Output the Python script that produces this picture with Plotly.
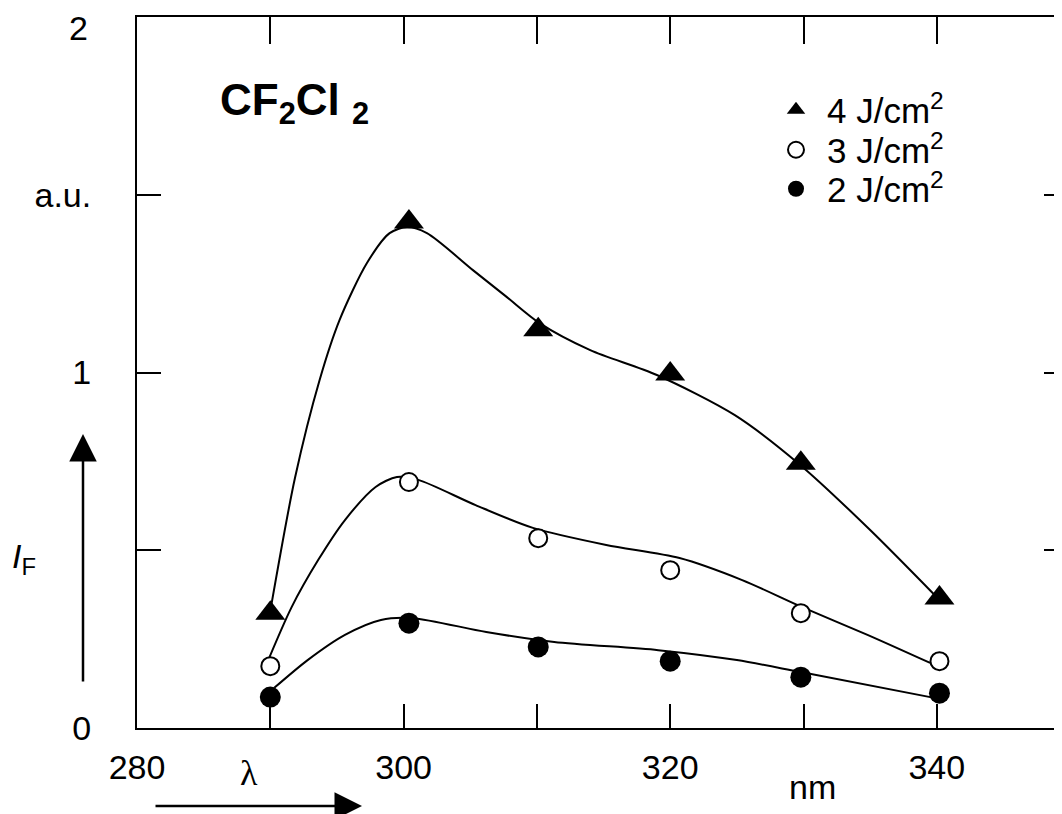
import plotly.graph_objects as go

# ---- data ----
wl_pts = [290.0, 300.4, 310.1, 320.0, 329.8, 340.2]
tri_4J = [0.323, 1.423, 1.120, 0.996, 0.745, 0.366]
open_3J = [0.174, 0.692, 0.534, 0.444, 0.323, 0.188]
fill_2J = [0.087, 0.295, 0.228, 0.188, 0.143, 0.098]

curve4_x = [290.05, 291.85, 293.7, 295.2, 297.25, 298.95, 300.25, 301.75,
            305.2, 307.75, 310.2, 314.0, 319.0, 324.85, 329.75, 335.0, 340.0]
curve4_y = [0.340, 0.703, 0.979, 1.148, 1.308, 1.392, 1.409, 1.392,
            1.288, 1.212, 1.139, 1.063, 0.993, 0.880, 0.740, 0.557, 0.368]
curve3_x = [289.6, 291.6, 293.6, 295.6, 297.9, 299.5, 301.1, 305.4, 309.7,
            315.2, 320.7, 325.4, 329.9, 334.8, 339.5]
curve3_y = [0.169, 0.340, 0.473, 0.585, 0.678, 0.706, 0.698, 0.627, 0.563,
            0.515, 0.478, 0.416, 0.340, 0.262, 0.183]
curve2_x = [290.3, 292.8, 295.6, 298.3, 300.7, 306.2, 311.3, 319.1, 325.0, 329.7, 339.9]
curve2_y = [0.113, 0.191, 0.262, 0.304, 0.309, 0.270, 0.242, 0.219, 0.191, 0.158, 0.084]

x_tickvals = [280, 290, 300, 310, 320, 330, 340]
x_ticktext = ["280", "", "300", "", "320", "", "340"]
y_tickvals = [0, 0.5, 1, 1.5, 2]
y_ticktext = ["0", "", "1", "a.u.", ""]
y_top_label = "2"
legend_names = ["4 J/cm<sup>2</sup>", "3 J/cm<sup>2</sup>", "2 J/cm<sup>2</sup>"]

FONT = "Liberation Sans, Arial, sans-serif"
fig = go.Figure()

for cx, cy in [(curve4_x, curve4_y), (curve3_x, curve3_y), (curve2_x, curve2_y)]:
    fig.add_trace(go.Scatter(x=cx, y=cy, mode="lines",
                             line=dict(color="black", width=2, shape="spline", smoothing=0.8),
                             showlegend=False, hoverinfo="skip"))

fig.add_trace(go.Scatter(x=wl_pts, y=tri_4J, mode="markers", name=legend_names[0],
                         legend="legend",
                         marker=dict(symbol="triangle-up", size=26, color="black")))
fig.add_trace(go.Scatter(x=wl_pts, y=open_3J, mode="markers", name=legend_names[1],
                         legend="legend2",
                         marker=dict(symbol="circle", size=18, color="white",
                                     line=dict(color="black", width=2))))
fig.add_trace(go.Scatter(x=wl_pts, y=fill_2J, mode="markers", name=legend_names[2],
                         legend="legend3",
                         marker=dict(symbol="circle", size=21, color="black")))

# invisible trace so the top / right frame axes are drawn
fig.add_trace(go.Scatter(x=[wl_pts[0]], y=[fill_2J[0]], xaxis="x2", yaxis="y2",
                         mode="markers", marker=dict(opacity=0), showlegend=False,
                         hoverinfo="skip"))

xr = [280, 280 + 925 / 13.33]


def leg(row_y):
    return dict(x=(765 - 137) / 925, y=(728 - row_y) / 711, xanchor="left", yanchor="middle",
                bgcolor="rgba(0,0,0,0)", font=dict(size=35, family=FONT), itemwidth=52)


fig.update_layout(
    width=1054, height=806,
    margin=dict(l=129, r=0, t=9, b=86, autoexpand=False),
    template="none",
    plot_bgcolor="white", paper_bgcolor="white",
    font=dict(family=FONT, color="black", size=34),
    xaxis=dict(range=xr, showgrid=False, zeroline=False, showline=True, linecolor="black",
               linewidth=2, ticks="inside", ticklen=24, tickwidth=2, tickcolor="black",
               tickvals=x_tickvals, ticktext=x_ticktext, ticklabelstandoff=8,
               tickfont=dict(size=34)),
    xaxis2=dict(range=xr, overlaying="x", side="top", anchor="y", showgrid=False,
                zeroline=False, showline=True, linecolor="black", linewidth=2,
                ticks="inside", ticklen=27, tickwidth=2, tickcolor="black",
                tickvals=x_tickvals[1:], showticklabels=False),
    yaxis=dict(range=[0, 2], showgrid=False, zeroline=False, showline=True, linecolor="black",
               linewidth=2, ticks="inside", ticklen=24, tickwidth=2, tickcolor="black",
               tickvals=y_tickvals, ticktext=y_ticktext, ticklabelstandoff=37,
               tickfont=dict(size=34)),
    yaxis2=dict(range=[0, 2], overlaying="y", side="right", anchor="x", showgrid=False,
                zeroline=False, showline=False, ticks="inside", ticklen=18, tickwidth=2,
                tickcolor="black", tickvals=y_tickvals[1:4], showticklabels=False),
    legend=leg(110),
    legend2=leg(150),
    legend3=leg(189),
    showlegend=True,
)

annotations = [
    dict(text=y_top_label, xref="paper", yref="paper",
         x=(90 - 137) / 925, y=(728 - 28) / 711, xanchor="right", yanchor="middle",
         showarrow=False, font=dict(size=34, family=FONT)),
    dict(text="<b>CF<sub>2</sub>Cl <sub>2</sub></b>", xref="paper", yref="paper",
         x=(218 - 137) / 925, y=(728 - 103) / 711, xanchor="left", yanchor="middle",
         showarrow=False, font=dict(size=44, family=FONT)),
    dict(text="<i>I</i><sub>F</sub>", xref="paper", yref="paper",
         x=(10 - 137) / 925, y=(728 - 558) / 711, xanchor="left", yanchor="middle",
         showarrow=False, font=dict(size=34, family=FONT)),
    dict(text="nm", xref="paper", yref="paper",
         x=(812 - 137) / 925, y=(728 - 787) / 711, xanchor="center", yanchor="middle",
         showarrow=False, font=dict(size=34, family=FONT)),
    dict(text="λ", xref="paper", yref="paper",
         x=(249 - 137) / 925, y=(728 - 773) / 711, xanchor="center", yanchor="middle",
         showarrow=False, font=dict(size=36, family="Liberation Serif, serif")),
    # horizontal wavelength arrow
    dict(text="", xref="paper", yref="paper", x=(362 - 137) / 925, y=(728 - 806) / 711,
         ax=-208, ay=0, showarrow=True, arrowhead=2, arrowsize=2.2, arrowwidth=2.5,
         arrowcolor="black"),
    # vertical intensity arrow
    dict(text="", xref="paper", yref="paper", x=(83 - 137) / 925, y=(728 - 434) / 711,
         ax=0, ay=249, showarrow=True, arrowhead=2, arrowsize=2.2, arrowwidth=2.5,
         arrowcolor="black"),
]
fig.update_layout(annotations=annotations)

fig.write_html("out.html")
